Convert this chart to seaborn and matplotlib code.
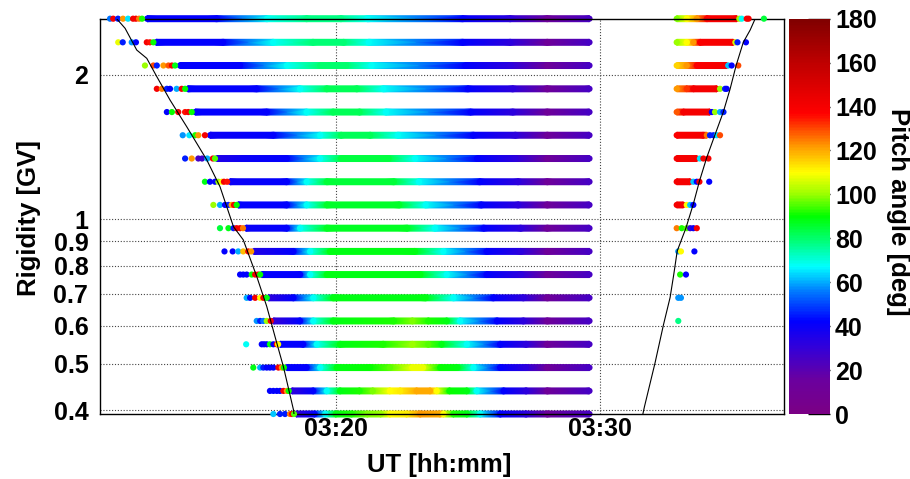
import numpy as np
import pandas as pd
import matplotlib
matplotlib.use("Agg")
import matplotlib.pyplot as plt
import seaborn as sns
from matplotlib.colors import LinearSegmentedColormap, Normalize
from matplotlib.cm import ScalarMappable
from matplotlib.ticker import FixedLocator, FuncFormatter, NullFormatter

# ---------------- data (time in minutes of day, 03:20 = 200) ----------------
rigidity = [2.616, 2.336, 2.090, 1.869, 1.672, 1.496, 1.338, 1.197, 1.071,
            0.958, 0.857, 0.767, 0.686, 0.614, 0.549, 0.491, 0.439, 0.393]

# dense track (key points along each row): time and pitch angle
bar_t = [
    [192.86, 195.5, 197.4, 198.9, 200.2, 201.2, 204.8, 206.6, 208.0, 209.6],
    [193.2, 195.74, 197.63, 199.14, 200.3, 201.25, 204.8, 206.6, 208.0, 209.6],
    [194.1, 196.38, 198.15, 199.41, 200.4, 201.35, 204.9, 206.6, 208.0, 209.6],
    [194.4, 197.01, 198.65, 199.66, 200.8, 201.8, 205.0, 206.7, 208.0, 209.6],
    [194.68, 197.39, 198.9, 199.9, 200.9, 201.9, 205.1, 206.7, 208.0, 209.6],
    [195.24, 197.64, 199.41, 200.2, 201.3, 202.35, 205.2, 206.8, 208.0, 209.6],
    [195.5, 196.5, 198.15, 199.4, 200.2, 202.0, 203.0, 205.35, 206.8, 208.0, 209.6],
    [196.0, 198.15, 198.9, 199.66, 202.2, 203.15, 205.45, 206.9, 208.0, 209.6],
    [196.3, 198.15, 198.9, 199.66, 202.4, 203.4, 205.5, 206.9, 208.0, 209.6],
    [196.6, 198.15, 198.65, 199.66, 202.7, 203.75, 205.6, 207.0, 208.0, 209.6],
    [196.9, 198.4, 199.03, 199.78, 203.0, 204.07, 205.71, 207.0, 208.0, 209.6],
    [197.2, 198.65, 199.03, 199.66, 203.2, 204.2, 205.71, 207.0, 208.0, 209.6],
    [197.45, 198.4, 199.15, 199.9, 203.4, 204.45, 205.96, 207.1, 208.0, 209.6],
    [197.64, 198.65, 199.15, 199.9, 202.2, 202.9, 203.5, 204.2, 204.7, 206.1, 207.1, 208.0, 209.6],
    [197.89, 198.77, 199.28, 200.16, 201.8, 202.9, 203.5, 204.0, 204.96, 206.22, 207.2, 208.0, 209.6],
    [198.15, 198.9, 199.41, 200.04, 201.3, 202.05, 202.9, 203.3, 203.95, 204.6, 205.21, 206.22, 207.2, 208.0, 209.6],
    [198.34, 199.15, 199.66, 200.16, 200.9, 201.4, 202.05, 202.43, 203.06, 203.57, 203.82, 204.3, 204.96, 205.33, 206.35, 207.2, 208.0, 209.6],
    [198.5, 199.2, 199.6, 200.0, 200.6, 201.2, 201.7, 202.05, 202.68, 203.19, 203.95, 204.07, 204.45, 204.96, 205.46, 206.22, 207.2, 208.0, 209.6],
]
bar_p = [
    [42, 42, 68, 78, 78, 68, 42, 32, 12, 25],
    [42, 42, 68, 79, 79, 68, 42, 32, 12, 25],
    [42, 42, 68, 80, 80, 68, 42, 32, 12, 25],
    [42, 42, 68, 82, 82, 68, 42, 32, 12, 25],
    [42, 42, 68, 82, 82, 68, 42, 32, 12, 25],
    [40, 42, 68, 82, 82, 68, 42, 32, 12, 25],
    [35, 40, 42, 68, 84, 84, 68, 42, 32, 12, 25],
    [40, 42, 68, 85, 85, 68, 42, 32, 12, 25],
    [42, 42, 68, 86, 86, 68, 42, 32, 12, 25],
    [40, 42, 68, 87, 87, 68, 42, 32, 12, 25],
    [35, 42, 68, 88, 88, 68, 42, 32, 12, 25],
    [42, 42, 68, 88, 88, 68, 42, 32, 12, 25],
    [32, 42, 68, 88, 88, 68, 42, 32, 12, 25],
    [30, 42, 68, 88, 92, 98, 92, 88, 68, 42, 32, 12, 25],
    [42, 42, 68, 88, 92, 100, 95, 88, 68, 42, 32, 12, 25],
    [42, 42, 68, 88, 90, 96, 108, 108, 90, 88, 68, 42, 32, 12, 25],
    [32, 42, 68, 88, 92, 98, 110, 112, 120, 120, 110, 90, 88, 68, 42, 32, 12, 25],
    [30, 42, 68, 88, 92, 98, 100, 110, 112, 122, 120, 110, 92, 88, 68, 42, 32, 12, 25],
]

# dense track after the gap (right side), rows 0..8
rbar_t = [
    [212.9, 213.28, 213.66, 214.04, 215.17],
    [212.9, 213.28, 213.53, 213.78, 215.04],
    [212.9, 213.28, 213.66, 214.79],
    [212.9, 213.28, 213.53, 214.42],
    [212.9, 213.15, 214.16],
    [212.9, 213.91, 214.04],
    [212.9, 213.66],
    [212.9, 213.41],
    [212.9, 213.15],
    [], [], [], [], [], [], [], [], [],
]
rbar_p = [
    [98, 110, 122, 138, 140],
    [100, 110, 122, 138, 140],
    [115, 122, 138, 140],
    [122, 132, 140, 140],
    [128, 140, 140],
    [138, 140, 125],
    [140, 140],
    [140, 140],
    [140, 140],
    [], [], [], [], [], [], [], [], [],
]

# isolated events
dot_t = [
    [191.46, 191.58, 191.76, 191.95, 192.14, 192.33, 192.44, 192.56, 192.67, 215.27, 215.36, 215.55, 215.62, 216.2],
    [191.77, 191.94, 192.28, 192.44, 192.85, 192.97, 193.1, 215.12, 215.2, 215.52],
    [192.78, 193.1, 193.23, 193.48, 193.67, 193.8, 193.92, 214.85, 214.98, 215.23],
    [193.23, 193.42, 193.61, 193.73, 193.98, 194.17, 194.3, 214.54, 214.73, 214.79],
    [193.61, 193.8, 194.04, 194.3, 194.42, 194.55, 214.23, 214.35, 214.54, 214.67],
    [194.21, 194.46, 194.68, 194.8, 195.05, 214.16, 214.29, 214.42, 214.54],
    [194.3, 194.55, 194.8, 194.94, 195.14, 195.35, 195.43, 213.78, 213.91, 214.1],
    [195.05, 195.24, 195.43, 195.56, 195.69, 195.77, 195.89, 213.53, 213.66, 213.76, 214.13],
    [195.37, 195.62, 195.81, 195.94, 196.06, 196.15, 196.25, 213.28, 213.41, 213.53],
    [195.62, 195.94, 196.13, 196.25, 196.38, 196.49, 212.9, 213.09, 213.28, 213.41, 213.53, 213.66],
    [195.79, 196.1, 196.31, 196.5, 196.69, 196.8, 212.96, 213.06, 213.57],
    [196.38, 196.5, 196.63, 196.82, 196.95, 197.07, 197.14, 213.03, 213.25],
    [196.63, 196.76, 196.95, 197.14, 197.26, 197.39, 212.96, 213.06],
    [197.01, 197.14, 197.26, 197.39, 197.54, 212.96],
    [196.61, 197.2, 197.29, 197.39, 197.51, 197.64, 197.77, 197.82],
    [196.88, 197.14, 197.26, 197.39, 197.51, 197.64, 197.83, 197.96, 198.04],
    [197.51, 197.64, 197.77, 197.89, 198.02, 198.15, 198.22],
    [197.64, 197.89, 198.08, 198.27, 198.35, 198.42],
]
dot_p = [
    [55, 140, 45, 122, 65, 140, 140, 125, 92, 100, 68, 140, 140, 85],
    [108, 45, 58, 42, 140, 135, 90, 105, 45, 42],
    [100, 130, 45, 122, 128, 140, 88, 62, 42, 130],
    [140, 125, 45, 42, 60, 140, 90, 100, 45, 42],
    [42, 90, 140, 135, 140, 90, 42, 100, 60, 45],
    [58, 65, 92, 122, 140, 45, 45, 65, 130],
    [45, 122, 25, 28, 60, 140, 95, 65, 140, 140],
    [88, 42, 42, 100, 110, 140, 135, 62, 42, 140, 42],
    [100, 60, 42, 45, 120, 140, 90, 110, 62, 42],
    [85, 88, 45, 140, 140, 125, 125, 92, 95, 30, 40, 140],
    [42, 42, 60, 118, 140, 122, 58, 110, 42],
    [42, 42, 42, 90, 140, 140, 90, 92, 42],
    [60, 42, 140, 110, 140, 88, 58, 58],
    [58, 45, 55, 100, 140, 78],
    [68, 42, 42, 42, 88, 42, 135, 110],
    [88, 60, 45, 42, 42, 42, 140, 122, 90],
    [42, 42, 42, 42, 140, 122, 90],
    [62, 45, 45, 125, 140, 95],
]

# geomagnetic cutoff curves
cut_left_t = [191.71, 192.03, 192.47, 192.85, 193.23, 193.73, 194.36, 195.12, 195.62,
              196.13, 196.50, 197.01, 197.39, 197.77, 198.02, 198.40, 198.42]
cut_left_r = [2.616, 2.498, 2.251, 2.163, 1.981, 1.771, 1.559, 1.329, 1.169,
              0.965, 0.906, 0.760, 0.658, 0.552, 0.493, 0.401, 0.393]
cut_right_t = [215.87, 215.68, 215.42, 215.15, 214.92, 214.66, 214.35, 214.04, 213.76,
               213.53, 213.25, 212.92, 212.79, 212.65, 212.40, 212.08, 211.68, 211.62]
cut_right_r = [2.616, 2.478, 2.336, 2.092, 1.867, 1.670, 1.500, 1.346, 1.200,
               1.076, 0.959, 0.859, 0.768, 0.687, 0.603, 0.502, 0.407, 0.393]

x_major = [200, 210]
x_minor = [192, 194, 196, 198, 202, 204, 206, 208, 212, 214, 216]
y_major = [1]
y_minor = [0.4, 0.5, 0.6, 0.7, 0.8, 0.9, 2]
cbar_ticks = [0, 20, 40, 60, 80, 100, 120, 140, 160, 180]

# ---------------- style ----------------
sns.set_style("white")
plt.rcParams["font.family"] = ["Liberation Sans", "DejaVu Sans"]
plt.rcParams["font.weight"] = "bold"
plt.rcParams["axes.labelweight"] = "bold"
plt.rcParams["text.color"] = "black"
plt.rcParams["axes.labelcolor"] = "black"
plt.rcParams["xtick.color"] = "black"
plt.rcParams["ytick.color"] = "black"

root_stops = [
    (0, (0.48, 0.00, 0.52)), (15, (0.42, 0.00, 0.62)), (30, (0.20, 0.00, 0.85)),
    (42, (0.00, 0.00, 1.00)), (55, (0.00, 0.45, 1.00)), (67, (0.00, 1.00, 1.00)),
    (78, (0.00, 1.00, 0.50)), (90, (0.00, 1.00, 0.00)), (100, (0.60, 1.00, 0.00)),
    (110, (1.00, 1.00, 0.00)), (122, (1.00, 0.60, 0.00)), (137, (1.00, 0.00, 0.00)),
    (160, (0.75, 0.00, 0.00)), (180, (0.50, 0.00, 0.00)),
]
cmap = LinearSegmentedColormap.from_list("rootpal", [(v / 180, c) for v, c in root_stops])
norm = Normalize(0, 180)

W, H = 910, 479
fig = plt.figure(figsize=(W / 100, H / 100), dpi=100)
ax_l, ax_r, ax_t, ax_b = 100, 784, 18.7, 414
ax = fig.add_axes([ax_l / W, 1 - ax_b / H, (ax_r - ax_l) / W, (ax_b - ax_t) / H])
ax.set_yscale("log")

half = 10 ** (3.0 / 480.0)  # ~6 px thick tracks

def draw_track(R, ts, ps):
    if len(ts) < 2:
        return
    t = np.asarray(ts, float)
    p = np.asarray(ps, float)
    X = np.vstack([t, t])
    Y = np.vstack([np.full_like(t, R / half), np.full_like(t, R * half)])
    C = np.vstack([p, p])
    ax.pcolormesh(X, Y, C, shading="gouraud", cmap=cmap, norm=norm, zorder=2, clip_on=False)

for R, ts, ps in zip(rigidity, bar_t, bar_p):
    draw_track(R, ts, ps)
for R, ts, ps in zip(rigidity, rbar_t, rbar_p):
    draw_track(R, ts, ps)

rows = []
for R, ts, ps in zip(rigidity, bar_t, bar_p):
    rows += [(t, R, p) for t, p in zip(ts, ps)]
for R, ts, ps in zip(rigidity, rbar_t, rbar_p):
    rows += [(t, R, p) for t, p in zip(ts, ps)]
caps = pd.DataFrame(rows, columns=["t", "R", "pitch"])
dots = pd.DataFrame([(t, R, p) for R, ts, ps in zip(rigidity, dot_t, dot_p) for t, p in zip(ts, ps)],
                    columns=["t", "R", "pitch"])

sns.scatterplot(data=caps, x="t", y="R", hue="pitch", palette=cmap, hue_norm=norm,
                s=20, linewidth=0, legend=False, ax=ax, zorder=2.5, clip_on=False)
sns.scatterplot(data=dots, x="t", y="R", hue="pitch", palette=cmap, hue_norm=norm,
                s=20, linewidth=0, legend=False, ax=ax, zorder=3, clip_on=False)

sns.lineplot(x=cut_left_t, y=cut_left_r, sort=False, estimator=None, color="black",
             lw=0.8, ax=ax, zorder=4)
sns.lineplot(x=cut_right_t, y=cut_right_r, sort=False, estimator=None, color="black",
             lw=0.8, ax=ax, zorder=4)

ax.set_xlim(191.08, 216.96)
ax.set_ylim(0.393, 2.616)

fmt_y = FuncFormatter(lambda v, pos: f"{v:g}")
ax.yaxis.set_major_locator(FixedLocator(y_major))
ax.yaxis.set_minor_locator(FixedLocator(y_minor))
ax.yaxis.set_major_formatter(fmt_y)
ax.yaxis.set_minor_formatter(fmt_y)
fmt_x = FuncFormatter(lambda v, pos: f"{int(v // 60):02d}:{int(round(v % 60)):02d}")
ax.xaxis.set_major_locator(FixedLocator(x_major))
ax.xaxis.set_minor_locator(FixedLocator(x_minor))
ax.xaxis.set_major_formatter(fmt_x)
ax.xaxis.set_minor_formatter(NullFormatter())

ax.tick_params(axis="y", which="major", direction="in", length=16.5, width=1, labelsize=18, pad=8.4, colors="black")
ax.tick_params(axis="y", which="minor", direction="in", length=8, width=1, labelsize=18, pad=8.4, colors="black")
ax.tick_params(axis="x", which="major", direction="in", length=7, width=1, labelsize=18, pad=2.5, colors="black")
ax.tick_params(axis="x", which="minor", direction="in", length=3.6, width=1, colors="black")

grid_kw = dict(color="#444444", lw=0.8, ls=(0, (1, 1.6)))
ax.grid(True, which="both", axis="y", **grid_kw)
ax.grid(True, which="major", axis="x", **grid_kw)
ax.set_axisbelow(True)
for s in ax.spines.values():
    s.set_color("black")
    s.set_linewidth(1.0)
ax.set_xlabel("")
ax.set_ylabel("")

fig.text(439 / W, 1 - 472 / H, "UT [hh:mm]", ha="center", va="baseline", fontsize=18.5,
         fontweight="bold", color="black")
fig.text(29 / W, 1 - 218 / H, "Rigidity [GV]", ha="center", va="center", rotation=90,
         fontsize=18.5, fontweight="bold", color="black")

cax = fig.add_axes([789 / W, 1 - ax_b / H, 41 / W, (ax_b - ax_t) / H])
cb = fig.colorbar(ScalarMappable(norm=norm, cmap=cmap), cax=cax)
cb.set_ticks(cbar_ticks)
cb.outline.set_visible(False)
cax.tick_params(direction="in", length=15.6, width=1, labelsize=18, pad=3.6, colors="black")
fig.text(898 / W, 1 - 212 / H, "Pitch angle [deg]", ha="center", va="center", rotation=270,
         fontsize=18.5, fontweight="bold", color="black")

fig.savefig("out.png", dpi=100)
